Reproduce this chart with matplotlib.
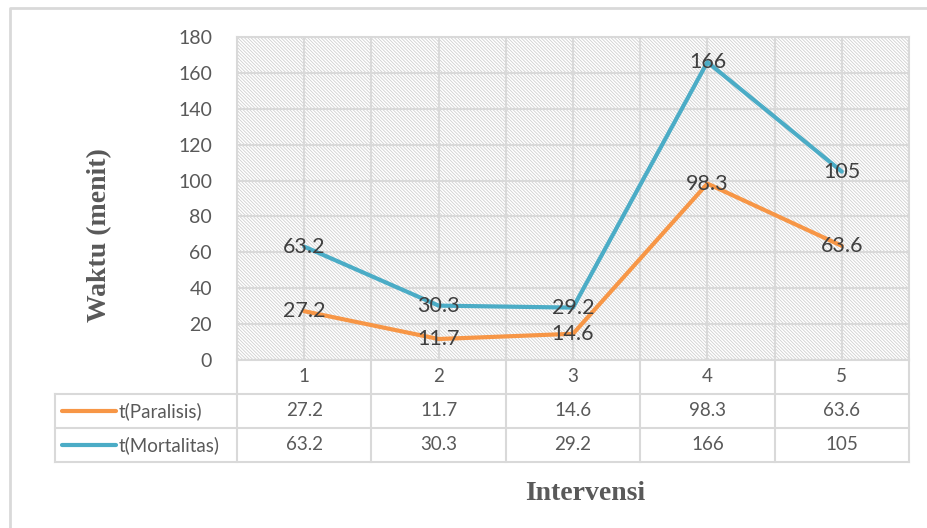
import matplotlib
matplotlib.use("Agg")
import matplotlib.pyplot as plt
from matplotlib.patches import Rectangle

categories = ["1", "2", "3", "4", "5"]
series_names = ["t(Paralisis)", "t(Mortalitas)"]
paralisis = [27.2, 11.7, 14.6, 98.3, 63.6]
mortalitas = [63.2, 30.3, 29.2, 166, 105]
y_ticks = [0, 20, 40, 60, 80, 100, 120, 140, 160, 180]

series = [paralisis, mortalitas]
colors = ["#F79646", "#4BACC6"]
text_grey = "#595959"
grid_grey = "#D9D9D9"

W, H = 927, 528
plt.rcParams["font.family"] = ["Lato", "DejaVu Sans"]
plt.rcParams["hatch.linewidth"] = 0.6
fig = plt.figure(figsize=(W / 100, H / 100), dpi=100)

# plot area in pixel coordinates
px0, px1, py0, py1 = 237, 909, 37, 360
ax = fig.add_axes([px0 / W, 1 - py1 / H, (px1 - px0) / W, (py1 - py0) / H])
ax.set_xlim(0.5, len(categories) + 0.5)
ax.set_ylim(0, 180)

ax.add_patch(Rectangle((0, 0), 1, 1, transform=ax.transAxes, facecolor="white",
                       edgecolor="#CFCFCF", hatch="\\" * 10, linewidth=0, zorder=0))

for v in y_ticks:
    ax.axhline(v, color=grid_grey, lw=1.5, zorder=1)
for k in range(2 * len(categories) + 1):
    ax.axvline(0.5 + k * 0.5, color=grid_grey, lw=1.5, zorder=1)

x = list(range(1, len(categories) + 1))
for vals, c in zip(series, colors):
    ax.plot(x, vals, color=c, lw=3, solid_capstyle="round", solid_joinstyle="round", zorder=3)
    for xi, v in zip(x, vals):
        ax.text(xi, v, f"{v:g}", ha="center", va="center", fontsize=15.5,
                color="#404040", zorder=4)

ax.set_yticks(y_ticks)
ax.set_yticklabels([str(v) for v in y_ticks], fontsize=14, color=text_grey)
ax.tick_params(axis="y", length=0, pad=18)
ax.set_xticks([])
for s in ax.spines.values():
    s.set_color(grid_grey)
    s.set_linewidth(1.5)

# data table under the plot area, drawn on a full-figure overlay
ov = fig.add_axes([0, 0, 1, 1], zorder=-1)
ov.set_xlim(0, W)
ov.set_ylim(H, 0)
ov.axis("off")

# outer chart frame
ov.plot([10, 10, W + 5], [H + 5, 8, 8], color=grid_grey, lw=2)

col_w = (px1 - px0) / len(categories)
row_h = 34
rows_top = py1
tx0 = 55
lw_t = 1.5
fs_t = 13.5

# header row with category numbers
for i, cat in enumerate(categories):
    ov.text(px0 + (i + 0.5) * col_w, rows_top + row_h / 2, cat, ha="center",
            va="center", fontsize=fs_t, color=text_grey)

for r, (name, vals, c) in enumerate(zip(series_names, series, colors)):
    ytop = rows_top + row_h * (r + 1)
    ymid = ytop + row_h / 2
    ov.plot([tx0, px1], [ytop + row_h] * 2, color=grid_grey, lw=lw_t)
    ov.plot([62, 116], [ymid, ymid], color=c, lw=3, solid_capstyle="round")
    ov.text(119, ymid, name, ha="left", va="center", fontsize=fs_t, color=text_grey)
    for i, v in enumerate(vals):
        ov.text(px0 + (i + 0.5) * col_w, ymid, f"{v:g}", ha="center", va="center",
                fontsize=fs_t, color=text_grey)

table_bottom = rows_top + row_h * 3
ov.plot([tx0, px1], [rows_top + row_h] * 2, color=grid_grey, lw=lw_t)
ov.plot([tx0, tx0], [rows_top + row_h, table_bottom], color=grid_grey, lw=lw_t)
for i in range(len(categories) + 1):
    ov.plot([px0 + i * col_w] * 2, [rows_top, table_bottom], color=grid_grey, lw=lw_t)

fig.text(100 / W, 1 - 235 / H, "Waktu (menit)", rotation=90, ha="center", va="center",
         fontsize=20, fontweight="bold", family="Liberation Serif", color=text_grey)
fig.text(585 / W, 1 - 494 / H, "Intervensi", ha="center", va="center",
         fontsize=20, fontweight="bold", family="Liberation Serif", color=text_grey)

fig.savefig("out.png", dpi=100)
